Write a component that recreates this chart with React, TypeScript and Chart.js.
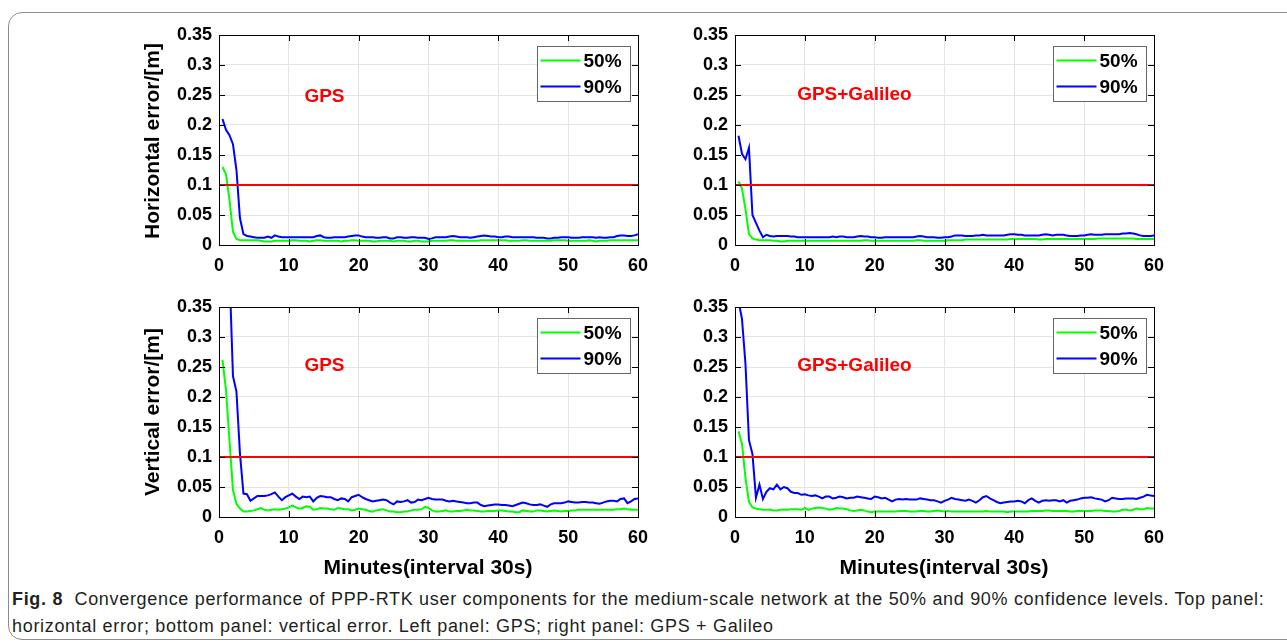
import React, { useEffect, useRef } from 'react';
import { Chart, registerables } from 'chart.js';

Chart.register(...registerables);

// ---------- data ----------
const intervalMinutes = 0.5;
const minutes: number[] = Array.from({ length: 120 }, (_, i) => (i + 1) * intervalMinutes);
const xTickValues = [0, 10, 20, 30, 40, 50, 60];
const yTickLabels = ['0', '0.05', '0.1', '0.15', '0.2', '0.25', '0.3', '0.35'];
const thresholdValue = 0.1;
const seriesLabels = ['50%', '90%'];

const horizGps50 = [
  .130, .118, .075, .022, .010, .008, .008, .008, .008, .008,
  .008, .007, .006, .006, .006, .007, .007, .007, .007, .007,
  .008, .008, .007, .007, .007, .006, .007, .008, .008, .007,
  .007, .007, .007, .007, .006, .007, .007, .008, .008, .007,
  .007, .007, .007, .006, .006, .007, .007, .007, .007, .006,
  .007, .007, .007, .006, .006, .007, .007, .006, .006, .006,
  .007, .007, .007, .007, .007, .008, .008, .007, .007, .007,
  .007, .007, .007, .007, .008, .008, .008, .008, .008, .008,
  .008, .008, .007, .007, .007, .007, .008, .008, .007, .007,
  .007, .007, .007, .007, .007, .008, .008, .008, .008, .007,
  .007, .007, .007, .007, .007, .008, .007, .006, .007, .007,
  .007, .008, .008, .008, .008, .008, .008, .008, .008, .008,
];
const horizGps90 = [
  .210, .192, .183, .168, .125, .045, .018, .015, .014, .013,
  .012, .012, .012, .014, .012, .016, .014, .013, .013, .013,
  .013, .013, .013, .013, .013, .013, .013, .015, .016, .013,
  .012, .012, .013, .013, .013, .013, .014, .015, .016, .016,
  .014, .013, .013, .013, .012, .012, .013, .013, .011, .011,
  .013, .013, .012, .012, .013, .013, .012, .012, .012, .010,
  .011, .013, .013, .013, .013, .014, .015, .014, .013, .013,
  .013, .012, .013, .014, .015, .016, .015, .014, .014, .013,
  .013, .014, .014, .013, .013, .013, .013, .013, .013, .013,
  .012, .012, .012, .011, .011, .012, .012, .013, .013, .013,
  .012, .012, .012, .013, .013, .013, .013, .012, .013, .012,
  .012, .013, .013, .015, .016, .016, .015, .015, .016, .018,
];
const horizGal50 = [
  .106, .094, .060, .018, .011, .009, .008, .008, .008, .008,
  .007, .007, .006, .006, .007, .007, .007, .007, .007, .007,
  .007, .007, .007, .007, .007, .007, .007, .007, .007, .007,
  .007, .007, .007, .007, .007, .007, .008, .008, .007, .007,
  .007, .007, .007, .007, .007, .007, .007, .007, .007, .007,
  .007, .008, .008, .007, .007, .007, .007, .007, .007, .007,
  .008, .008, .008, .008, .008, .009, .009, .009, .009, .009,
  .009, .009, .009, .009, .009, .009, .009, .009, .010, .010,
  .010, .010, .010, .010, .010, .010, .009, .009, .010, .010,
  .010, .010, .010, .010, .010, .010, .010, .010, .010, .010,
  .010, .010, .010, .011, .011, .011, .011, .011, .011, .011,
  .011, .011, .011, .011, .010, .010, .010, .010, .010, .010,
];
const horizGal90 = [
  .182, .152, .143, .162, .050, .037, .024, .013, .017, .015,
  .014, .015, .015, .015, .015, .014, .014, .013, .013, .013,
  .013, .013, .013, .013, .013, .013, .013, .014, .013, .014,
  .014, .013, .013, .013, .014, .015, .014, .014, .013, .013,
  .012, .012, .013, .013, .013, .013, .013, .013, .013, .013,
  .013, .014, .015, .014, .013, .013, .013, .012, .012, .013,
  .013, .014, .016, .016, .016, .015, .015, .015, .016, .016,
  .017, .016, .016, .016, .016, .016, .016, .017, .018, .018,
  .017, .017, .016, .016, .016, .016, .016, .017, .018, .017,
  .016, .017, .017, .017, .016, .015, .015, .015, .016, .016,
  .017, .018, .017, .017, .017, .018, .018, .018, .018, .018,
  .019, .019, .020, .019, .018, .016, .015, .015, .015, .016,
];
const vertGps50 = [
  .262, .212, .128, .045, .022, .014, .009, .009, .010, .011,
  .013, .015, .012, .011, .012, .013, .012, .013, .014, .016,
  .019, .016, .014, .015, .018, .017, .012, .013, .015, .014,
  .014, .013, .012, .015, .014, .013, .013, .011, .012, .014,
  .013, .012, .010, .009, .011, .012, .013, .011, .009, .009,
  .008, .008, .009, .009, .011, .012, .012, .013, .017, .015,
  .011, .009, .009, .010, .011, .009, .009, .010, .010, .011,
  .012, .011, .011, .010, .009, .009, .010, .010, .010, .011,
  .011, .010, .009, .009, .008, .008, .011, .010, .009, .009,
  .011, .011, .010, .009, .010, .011, .010, .009, .010, .010,
  .011, .011, .012, .012, .012, .012, .012, .012, .012, .012,
  .012, .012, .012, .013, .013, .014, .013, .012, .012, .012,
];
const vertGps90 = [
  .620, .520, .410, .235, .209, .106, .039, .038, .027, .031,
  .035, .035, .035, .036, .038, .041, .034, .028, .033, .036,
  .039, .034, .030, .034, .033, .034, .026, .032, .035, .034,
  .033, .033, .030, .028, .031, .030, .026, .033, .035, .037,
  .033, .030, .028, .026, .027, .028, .029, .028, .024, .021,
  .026, .025, .026, .028, .024, .025, .029, .028, .030, .032,
  .030, .029, .029, .029, .027, .026, .027, .026, .025, .024,
  .023, .023, .024, .024, .020, .018, .019, .020, .021, .021,
  .020, .020, .019, .018, .020, .022, .024, .023, .021, .020,
  .020, .021, .019, .017, .021, .023, .023, .023, .024, .026,
  .025, .024, .024, .025, .025, .024, .024, .023, .022, .024,
  .026, .027, .027, .026, .030, .031, .023, .026, .030, .031,
];
const vertGal50 = [
  .143, .122, .065, .025, .016, .014, .013, .012, .012, .012,
  .011, .011, .012, .012, .012, .013, .013, .013, .012, .015,
  .012, .014, .015, .016, .015, .014, .012, .013, .015, .014,
  .014, .013, .011, .010, .011, .012, .011, .009, .008, .009,
  .009, .009, .009, .009, .009, .009, .010, .010, .010, .009,
  .009, .009, .010, .010, .009, .009, .010, .011, .010, .009,
  .010, .009, .009, .009, .009, .009, .009, .009, .009, .009,
  .009, .010, .009, .009, .009, .009, .009, .008, .009, .009,
  .009, .009, .009, .009, .010, .010, .010, .010, .011, .011,
  .010, .010, .010, .010, .010, .009, .009, .010, .010, .010,
  .010, .010, .011, .011, .011, .010, .010, .009, .009, .010,
  .012, .012, .011, .012, .014, .013, .013, .015, .014, .014,
];
const vertGal90 = [
  .360, .330, .255, .128, .105, .032, .054, .030, .042, .048,
  .046, .054, .046, .050, .048, .042, .040, .040, .037, .038,
  .036, .035, .036, .034, .031, .034, .034, .031, .032, .034,
  .033, .031, .032, .032, .034, .033, .032, .031, .030, .034,
  .033, .031, .032, .029, .026, .029, .030, .029, .030, .029,
  .029, .029, .031, .030, .029, .028, .028, .026, .024, .027,
  .029, .032, .030, .029, .028, .027, .029, .027, .024, .028,
  .033, .035, .031, .028, .025, .023, .024, .025, .026, .026,
  .027, .026, .023, .028, .031, .027, .024, .027, .028, .027,
  .028, .028, .026, .028, .024, .027, .028, .029, .031, .032,
  .032, .033, .031, .030, .029, .026, .028, .032, .031, .030,
  .030, .031, .031, .031, .030, .032, .034, .037, .036, .035,
];

// ---------- styling ----------
const FONT = "'Liberation Sans', Arial, Helvetica, sans-serif";
const C50 = '#00ff00';
const C90 = '#0000ff';
const CRED = '#ff0000';

const decoPlugin = {
  id: 'panelDeco',
  afterDraw(chart: any, _args: any, opts: any) {
    const { ctx, chartArea: a, scales } = chart;
    const xs = scales.x;
    const ys = scales.y;
    ctx.save();
    // inward ticks
    ctx.strokeStyle = '#000';
    ctx.lineWidth = 1;
    const tl = 6;
    ctx.beginPath();
    xs.ticks.forEach((t: any) => {
      const px = Math.round(xs.getPixelForValue(t.value)) + 0.5;
      ctx.moveTo(px, a.bottom); ctx.lineTo(px, a.bottom - tl);
      ctx.moveTo(px, a.top); ctx.lineTo(px, a.top + tl);
    });
    ys.ticks.forEach((t: any) => {
      const py = Math.round(ys.getPixelForValue(t.value)) + 0.5;
      ctx.moveTo(a.left, py); ctx.lineTo(a.left + tl, py);
      ctx.moveTo(a.right, py); ctx.lineTo(a.right - tl, py);
    });
    ctx.stroke();
    // box
    ctx.strokeRect(Math.round(a.left) + 0.5, Math.round(a.top) + 0.5,
      Math.round(a.right - a.left), Math.round(a.bottom - a.top));

    // annotation text
    ctx.fillStyle = CRED;
    ctx.font = `bold 19px ${FONT}`;
    ctx.textAlign = 'center';
    ctx.textBaseline = 'middle';
    ctx.fillText(opts.label, xs.getPixelForValue(opts.labelX), ys.getPixelForValue(opts.labelY));

    // legend
    const bw = 93, bh = 55;
    const bx = Math.round(a.right - 8 - bw) + 0.5;
    const by = Math.round(a.top + 11) + 0.5;
    ctx.fillStyle = '#fff';
    ctx.fillRect(bx, by, bw, bh);
    ctx.strokeStyle = '#666';
    ctx.lineWidth = 1;
    ctx.strokeRect(bx, by, bw, bh);
    const items = chart.data.datasets.filter((d: any) => seriesLabels.includes(d.label));
    items.sort((p: any, q: any) => seriesLabels.indexOf(p.label) - seriesLabels.indexOf(q.label));
    items.forEach((d: any, i: number) => {
      const y = by + 14 + i * 26;
      ctx.strokeStyle = d.borderColor;
      ctx.lineWidth = 2;
      ctx.beginPath();
      ctx.moveTo(bx + 3, y);
      ctx.lineTo(bx + 43, y);
      ctx.stroke();
      ctx.fillStyle = '#000';
      ctx.font = `bold 19px ${FONT}`;
      ctx.textAlign = 'left';
      ctx.textBaseline = 'middle';
      ctx.fillText(d.label, bx + 46, y + 1);
    });
    ctx.restore();
  },
};

type PanelProps = {
  left: number; top: number;
  p50: number[]; p90: number[];
  label: string; labelX: number; labelY: number;
};

function Panel({ left, top, p50, p90, label, labelX, labelY }: PanelProps) {
  const ref = useRef<HTMLCanvasElement>(null);
  useEffect(() => {
    const tickFont = { family: FONT, size: 18, weight: 'bold' as const };
    const chart = new Chart(ref.current as HTMLCanvasElement, {
      type: 'line',
      data: {
        datasets: [
          {
            label: 'threshold',
            data: [{ x: 0, y: thresholdValue }, { x: 60, y: thresholdValue }],
            borderColor: CRED, borderWidth: 2, pointRadius: 0, order: 0,
          },
          {
            label: seriesLabels[0],
            data: minutes.map((m, i) => ({ x: m, y: p50[i] })),
            borderColor: C50, borderWidth: 2, pointRadius: 0, tension: 0, order: 1,
          },
          {
            label: seriesLabels[1],
            data: minutes.map((m, i) => ({ x: m, y: p90[i] })),
            borderColor: C90, borderWidth: 2, pointRadius: 0, tension: 0, order: 2,
          },
        ] as any,
      },
      options: {
        responsive: false,
        animation: false,
        layout: { padding: { top: 15, right: 12, left: 0, bottom: 0 } },
        plugins: {
          legend: { display: false },
          tooltip: { enabled: false },
          panelDeco: { label, labelX, labelY },
        } as any,
        scales: {
          x: {
            type: 'linear', min: 0, max: 60,
            afterBuildTicks: (s: any) => { s.ticks = xTickValues.map((v) => ({ value: v })); },
            ticks: { font: tickFont, color: '#000', padding: 10, maxRotation: 0, autoSkip: false },
            grid: { color: '#e4e4e4', drawTicks: false },
            border: { display: false },
            afterFit: (s: any) => { s.height = 40; s.paddingLeft = 0; s.paddingRight = 0; },
          },
          y: {
            type: 'linear', min: 0, max: 0.35,
            afterBuildTicks: (s: any) => { s.ticks = yTickLabels.map((l) => ({ value: parseFloat(l) })); },
            ticks: {
              font: tickFont, color: '#000', padding: 7, autoSkip: false,
              callback: (_v: any, i: number) => yTickLabels[i],
            },
            grid: { color: '#e4e4e4', drawTicks: false },
            border: { display: false },
            afterFit: (s: any) => { s.width = 99; s.paddingTop = 0; s.paddingBottom = 0; },
          },
        },
      } as any,
      plugins: [decoPlugin],
    });
    return () => chart.destroy();
  }, []);
  return (
    <canvas ref={ref} width={530} height={265}
      style={{ position: 'absolute', left, top, width: 530, height: 265 }} />
  );
}

const titleStyle: React.CSSProperties = {
  position: 'absolute', fontFamily: FONT, fontWeight: 'bold', fontSize: 21,
  color: '#000', whiteSpace: 'nowrap', transform: 'translate(-50%, -50%)', lineHeight: 1,
};

export default function App() {
  return (
    <div style={{ position: 'fixed', left: 0, top: 0, width: 1287, height: 643, background: '#fff', overflow: 'hidden' }}>
      <div style={{
        position: 'absolute', left: 8, top: 12, width: 1320, height: 628,
        border: '1.5px solid #8c8c8c', borderRadius: 14, boxSizing: 'border-box',
      }} />
      <Panel left={120} top={20} p50={horizGps50} p90={horizGps90} label="GPS" labelX={15.1} labelY={0.247} />
      <Panel left={636} top={20} p50={horizGal50} p90={horizGal90} label="GPS+Galileo" labelX={17.1} labelY={0.25} />
      <Panel left={120} top={292} p50={vertGps50} p90={vertGps90} label="GPS" labelX={15.1} labelY={0.252} />
      <Panel left={636} top={292} p50={vertGal50} p90={vertGal90} label="GPS+Galileo" labelX={17.1} labelY={0.252} />

      <div style={{ ...titleStyle, left: 151, top: 141, transform: 'translate(-50%, -50%) rotate(-90deg)' }}>Horizontal error/[m]</div>
      <div style={{ ...titleStyle, left: 151, top: 412, transform: 'translate(-50%, -50%) rotate(-90deg)' }}>Vertical error/[m]</div>
      <div style={{ ...titleStyle, left: 428, top: 566 }}>Minutes(interval 30s)</div>
      <div style={{ ...titleStyle, left: 944, top: 566 }}>Minutes(interval 30s)</div>

      <div style={{ position: 'absolute', left: 12, top: 586, fontFamily: FONT, fontSize: 18, letterSpacing: '0.68px', color: '#231f20', whiteSpace: 'nowrap', lineHeight: '27px' }}>
        <div><b>Fig. 8</b>&nbsp; Convergence performance of PPP-RTK user components for the medium-scale network at the 50% and 90% confidence levels. Top panel:</div>
        <div>horizontal error; bottom panel: vertical error. Left panel: GPS; right panel: GPS + Galileo</div>
      </div>
    </div>
  );
}
